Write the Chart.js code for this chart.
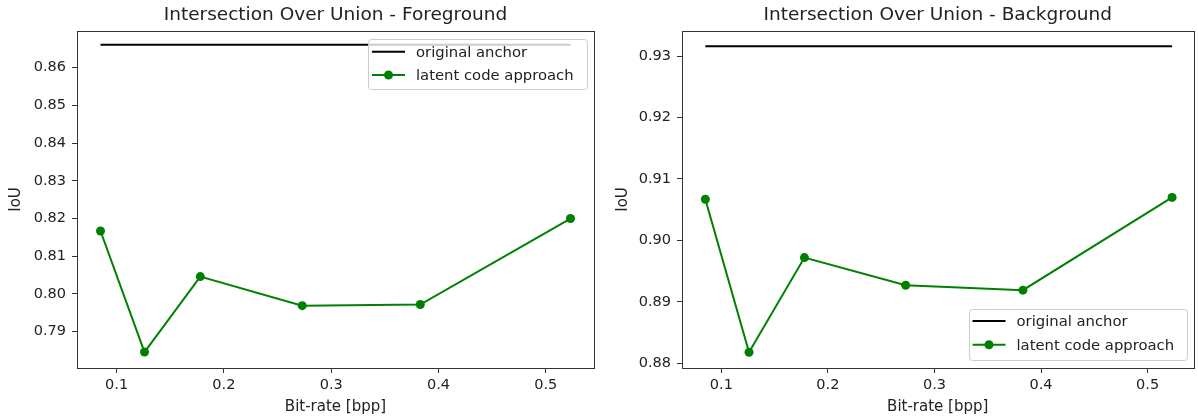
<!DOCTYPE html>
<html><head><meta charset="utf-8">
<script src="https://cdn.jsdelivr.net/npm/chart.js@4.4.0/dist/chart.umd.min.js"></script>
<style>
html,body{margin:0;padding:0;background:#fff;}
#wrap{position:relative;width:1198px;height:418px;overflow:hidden;}
#c1{position:absolute;left:0;top:0;}
#c2{position:absolute;left:600px;top:0;}
</style></head><body>
<div id="wrap"><canvas id="c1" width="600" height="418"></canvas><canvas id="c2" width="598" height="418"></canvas></div>
<script>
const bitRate = [0.085, 0.126, 0.178, 0.273, 0.383, 0.523];
const iouForeground = [0.8167, 0.7846, 0.8046, 0.7969, 0.7972, 0.8200];
const iouBackground = [0.9067, 0.8818, 0.8972, 0.8927, 0.8919, 0.9070];
const anchorForeground = 0.8661;
const anchorBackground = 0.9316;
const xTickValues = [0.1, 0.2, 0.3, 0.4, 0.5];
const yTicksForeground = [0.79, 0.80, 0.81, 0.82, 0.83, 0.84, 0.85, 0.86];
const yTicksBackground = [0.88, 0.89, 0.90, 0.91, 0.92, 0.93];
const seriesLabels = ['original anchor', 'latent code approach'];
const chartTitles = ['Intersection Over Union - Foreground', 'Intersection Over Union - Background'];
const xAxisLabel = 'Bit-rate [bpp]';
const yAxisLabel = 'IoU';

const FONT = 'DejaVu Sans';
const TEXT = '#222';

const framePlugin = {
  id: 'frame',
  afterDatasetsDraw(chart) {
    const {ctx, chartArea: a} = chart;
    ctx.save();
    ctx.strokeStyle = '#333';
    ctx.lineWidth = 1;
    ctx.strokeRect(Math.round(a.left) + 0.5, Math.round(a.top) + 0.5,
      Math.round(a.right - a.left), Math.round(a.bottom - a.top));
    ctx.restore();
  }
};

const legendPlugin = {
  id: 'mplLegend',
  afterDraw(chart, args, o) {
    const {ctx, chartArea: a} = chart;
    const x = a.right - o.marginRight - o.width;
    const y = o.corner === 'top' ? a.top + o.marginY : a.bottom - o.marginY - o.height;
    ctx.save();
    ctx.beginPath();
    ctx.roundRect(Math.round(x) + 0.5, Math.round(y) + 0.5, o.width, o.height, 3);
    ctx.fillStyle = 'rgba(255,255,255,0.8)';
    ctx.fill();
    ctx.strokeStyle = '#cccccc';
    ctx.lineWidth = 1;
    ctx.stroke();
    chart.data.datasets.forEach((d, i) => {
      const ry = y + o.rowY[i];
      const lx0 = x + 4, lx1 = x + 37;
      ctx.beginPath();
      ctx.moveTo(lx0, ry); ctx.lineTo(lx1, ry);
      ctx.strokeStyle = d.borderColor; ctx.lineWidth = d.borderWidth; ctx.stroke();
      if (d.pointRadius > 0) {
        ctx.beginPath();
        ctx.arc((lx0 + lx1) / 2, ry, d.pointRadius, 0, Math.PI * 2);
        ctx.fillStyle = d.pointBackgroundColor; ctx.fill();
      }
      ctx.fillStyle = TEXT;
      ctx.font = o.fontSize + 'px "' + FONT + '"';
      ctx.textBaseline = 'middle';
      ctx.textAlign = 'left';
      ctx.fillText(d.label, x + 48, ry + 1);
    });
    ctx.restore();
  }
};

function makeChart(id, cfg) {
  const points = bitRate.map((b, i) => ({x: b, y: cfg.values[i]}));
  const anchorLine = [{x: bitRate[0], y: cfg.anchor}, {x: bitRate[bitRate.length - 1], y: cfg.anchor}];
  return new Chart(document.getElementById(id), {
    type: 'line',
    data: {
      datasets: [
        {label: seriesLabels[0], data: anchorLine, borderColor: '#000', borderWidth: 2,
         pointRadius: 0, pointBackgroundColor: '#000', fill: false, tension: 0},
        {label: seriesLabels[1], data: points, borderColor: '#008000', borderWidth: 2,
         pointRadius: 4.5, pointHoverRadius: 4.5, pointBackgroundColor: '#008000',
         pointBorderColor: '#008000', pointBorderWidth: 0, fill: false, tension: 0}
      ]
    },
    options: {
      responsive: false, animation: false, devicePixelRatio: 1,
      layout: {padding: {left: 0, right: cfg.padRight, top: 0, bottom: 0}},
      plugins: {
        legend: {display: false},
        tooltip: {enabled: false},
        title: {display: true, fullSize: false, text: cfg.title, color: TEXT,
          font: {family: FONT, size: 18.5, weight: 'normal', lineHeight: 1.2},
          padding: {top: 4.5, bottom: 4.3}},
        mplLegend: cfg.legend
      },
      scales: {
        x: {
          type: 'linear', min: cfg.xMin, max: cfg.xMax,
          afterBuildTicks: s => { s.ticks = xTickValues.map(v => ({value: v})); },
          afterFit: s => { s.height = 50; },
          ticks: {color: TEXT, font: {family: FONT, size: 14.5}, padding: 4, maxRotation: 0,
            callback: v => v.toFixed(1)},
          grid: {display: true, drawOnChartArea: false, drawTicks: true, tickLength: 5, tickColor: '#333', tickWidth: 1},
          border: {display: false},
          title: {display: true, text: xAxisLabel, color: TEXT, font: {family: FONT, size: 15, lineHeight: 1.2},
            padding: {top: 0, bottom: 2}}
        },
        y: {
          type: 'linear', min: cfg.yMin, max: cfg.yMax,
          afterBuildTicks: s => { s.ticks = cfg.yTicks.map(v => ({value: v})); },
          afterFit: s => { s.width = cfg.axisWidth; },
          ticks: {color: TEXT, font: {family: FONT, size: 14.5}, padding: 6,
            callback: v => v.toFixed(2)},
          grid: {display: true, drawOnChartArea: false, drawTicks: true, tickLength: 5, tickColor: '#333', tickWidth: 1},
          border: {display: false},
          title: {display: true, text: yAxisLabel, color: TEXT, font: {family: FONT, size: 15, lineHeight: 1.2},
            padding: {top: cfg.yTitlePad, bottom: 0}}
        }
      }
    },
    plugins: [framePlugin, legendPlugin]
  });
}

makeChart('c1', {
  values: iouForeground, anchor: anchorForeground, yTicks: yTicksForeground,
  yMin: 0.78037, yMax: 0.86973, xMin: 0.0631, xMax: 0.5449,
  axisWidth: 77, padRight: 6, yTitlePad: 7, title: chartTitles[0],
  legend: {corner: 'top', marginRight: 7, marginY: 8, width: 219, height: 50, rowY: [12.7, 36], fontSize: 14.8}
});
makeChart('c2', {
  values: iouBackground, anchor: anchorBackground, yTicks: yTicksBackground,
  yMin: 0.87924, yMax: 0.93407, xMin: 0.0631, xMax: 0.5431,
  axisWidth: 82, padRight: 1, yTitlePad: 14, title: chartTitles[1],
  legend: {corner: 'bottom', marginRight: 7, marginY: 8, width: 218, height: 51, rowY: [12, 35.7], fontSize: 14.8}
});
</script>
</body></html>
